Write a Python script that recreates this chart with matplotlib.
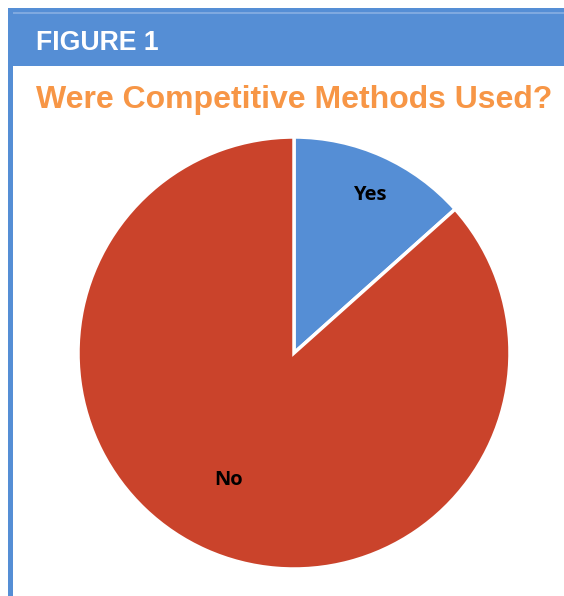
import matplotlib
matplotlib.use("Agg")
import matplotlib.pyplot as plt
from matplotlib.patches import Rectangle
import numpy as np

# data
labels = ["Yes", "No"]
shares = [13.4, 86.6]
colors = ["#558ED5", "#CA432B"]
header_text = "FIGURE 1"
title_text = "Were Competitive Methods Used?"

W, H = 564, 596
fig = plt.figure(figsize=(W / 100, H / 100), dpi=100)

def px(x, y):
    # pixel (top-left origin) -> figure fraction
    return x / W, 1 - y / H

# header bar and left border
hx, hy = px(8, 66)
fig.patches.append(Rectangle((hx, hy), 1 - hx, (66 - 8) / H, transform=fig.transFigure,
                             facecolor="#558ED5", edgecolor="none", zorder=0))
lx, ly = px(8, 596)
fig.patches.append(Rectangle((lx, ly), 5 / W, (596 - 8) / H, transform=fig.transFigure,
                             facecolor="#558ED5", edgecolor="none", zorder=0))
sx, sy = px(13, 14)
fig.patches.append(Rectangle((sx, sy), 1 - sx, 1.5 / H, transform=fig.transFigure,
                             facecolor="#7FA9E0", edgecolor="none", zorder=1))

tx, ty = px(36, 43)
fig.text(tx, ty, header_text, color="white", fontsize=19.2, fontweight="bold",
         family="Liberation Sans", va="center", ha="left")
tx, ty = px(36, 100)
fig.text(tx, ty, title_text, color="#F79646", fontsize=23, fontweight="bold",
         family="Liberation Sans", va="center", ha="left")

# pie
cx, cy, r = 294, 353, 216
ax = fig.add_axes([(cx - r) / W, (H - cy - r) / H, 2 * r / W, 2 * r / H])
wedges, _ = ax.pie(shares, colors=colors, startangle=90, counterclock=False,
                   wedgeprops=dict(edgecolor="white", linewidth=2.5))
ax.set_xlim(-1, 1)
ax.set_ylim(-1, 1)
ax.set_aspect("equal")
ax.axis("off")

label_r = [0.81, 0.66]
label_shift = [-0.025, -0.055]  # small angular tweak in radians
for w, lab, lr, sh in zip(wedges, labels, label_r, label_shift):
    ang = np.deg2rad((w.theta1 + w.theta2) / 2) + sh
    ax.text(lr * np.cos(ang), lr * np.sin(ang), lab, ha="center", va="center",
            fontsize=14.5, fontweight="bold", family="Open Sans", color="black")

fig.savefig("out.png", dpi=100)
